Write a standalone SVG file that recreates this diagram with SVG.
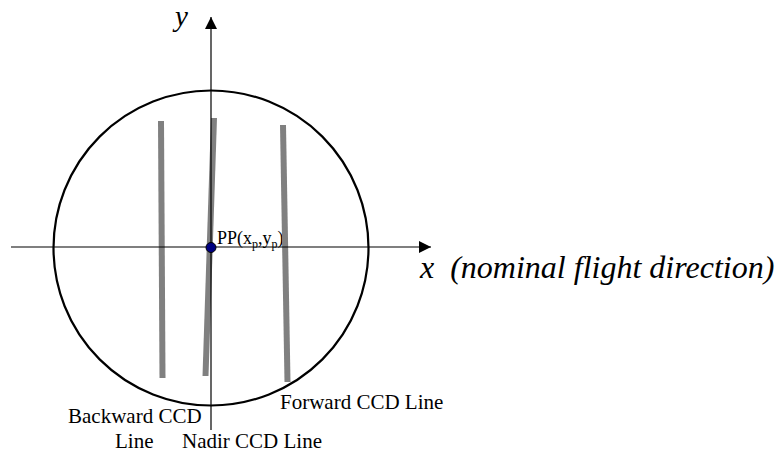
<svg xmlns="http://www.w3.org/2000/svg" width="784" height="457" viewBox="0 0 784 457">
<style>
.lbl{font-family:"Liberation Serif","Times New Roman",serif;font-size:21px;fill:#000}
.it{font-family:"Liberation Serif","Times New Roman",serif;font-style:italic;fill:#000}
.ccd{stroke:#808080;stroke-width:6;fill:none}
.ax{stroke:#000;stroke-width:1.2;fill:none}
</style>
<defs>
<marker id="arr" viewBox="0 0 12 12" refX="12" refY="6" markerWidth="12" markerHeight="12" markerUnits="userSpaceOnUse" orient="auto">
<path d="M0,0 L12,6 L0,12 Z" fill="#000"/>
</marker>
</defs>
<rect width="784" height="457" fill="#fff"/>
<g id="circle-node">
<circle cx="211" cy="248" r="157.5" fill="none" stroke="#000" stroke-width="2.2"/>
</g>
<g id="pp-label">
<text class="lbl" x="217" y="244" style="font-size:18px">PP(x<tspan dy="4" style="font-size:12px">p</tspan><tspan dy="-4">,y</tspan><tspan dy="4" style="font-size:12px">p</tspan><tspan dy="-4">)</tspan></text>
</g>
<g id="ccd-lines">
<line id="backward-ccd" class="ccd" x1="161" y1="121" x2="162.5" y2="378"/>
<line id="nadir-ccd" class="ccd" x1="214" y1="118" x2="205.5" y2="376"/>
<line id="forward-ccd" class="ccd" x1="283" y1="125" x2="287.5" y2="382"/>
</g>
<g id="connectors">
<line class="ax" x1="11" y1="247" x2="431" y2="247" marker-end="url(#arr)"/>
<line class="ax" x1="211" y1="430" x2="211" y2="17" marker-end="url(#arr)"/>
</g>
<g id="pp-point">
<circle cx="211" cy="247.5" r="5" fill="#000080" stroke="#000" stroke-width="1"/>
</g>
<g id="axis-labels">
<text class="it" x="175" y="26" style="font-size:29px">y</text>
<text class="it" x="420" y="278" style="font-size:32px" xml:space="preserve">x  (nominal flight direction)</text>
</g>
<g id="ccd-labels">
<text class="lbl" x="68" y="423">Backward CCD</text>
<text class="lbl" x="115" y="448">Line</text>
<text class="lbl" x="182" y="448">Nadir CCD Line</text>
<text class="lbl" x="280" y="409">Forward CCD Line</text>
</g>
</svg>
